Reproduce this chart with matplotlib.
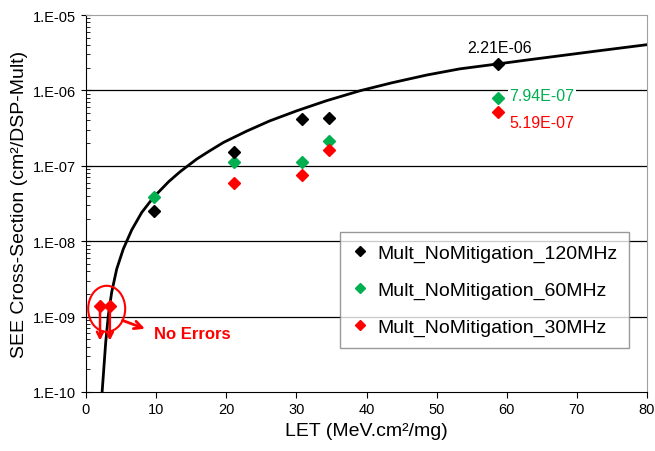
import numpy as np
import matplotlib.pyplot as plt
from matplotlib.patches import Ellipse
from matplotlib.ticker import FixedLocator, FixedFormatter, LogLocator, NullFormatter

plt.rcParams['font.family'] = ['Liberation Sans', 'DejaVu Sans']

# Dados
let_120 = [9.7, 21.1, 30.8, 34.7, 58.8]
xs_120 = [2.51e-8, 1.54e-7, 4.14e-7, 4.27e-7, 2.21e-6]

let_60 = [9.7, 21.1, 30.8, 34.7, 58.8]
xs_60 = [3.82e-8, 1.13e-7, 1.13e-7, 2.15e-7, 7.94e-7]

let_30 = [21.1, 30.8, 34.7, 58.8]
xs_30 = [5.86e-8, 7.55e-8, 1.62e-7, 5.19e-7]

# pontos sem erros (limite superior)
let_noerr = [2.0, 3.4]
xs_noerr = [1.4e-9, 1.4e-9]
xs_noerr_tip = [4.8e-10, 4.8e-10]

# curva ajustada
let_fit = [2.3, 2.57, 2.81, 3.18, 3.66, 4.38, 5.32, 6.52, 7.94, 9.6, 11.8,
           13.4, 15.8, 17.5, 19.6, 22.9, 26.2, 30.1, 34.3, 39.1, 43.6, 48.6,
           53.3, 58.8, 62.9, 67.6, 72.3, 80.0]
xs_fit = [1.0e-10, 2.23e-10, 4.56e-10, 1.03e-9, 2.1e-9, 4.28e-9, 7.89e-9,
          1.41e-8, 2.4e-8, 3.8e-8, 6.17e-8, 8.32e-8, 1.23e-7, 1.55e-7, 2.04e-7,
          2.88e-7, 3.94e-7, 5.38e-7, 7.3e-7, 9.91e-7, 1.26e-6, 1.6e-6, 1.93e-6,
          2.25e-6, 2.53e-6, 2.88e-6, 3.28e-6, 4.04e-6]

y_ticks = [1e-10, 1e-9, 1e-8, 1e-7, 1e-6, 1e-5]
y_labels = ['1.E-10', '1.E-09', '1.E-08', '1.E-07', '1.E-06', '1.E-05']
x_ticks = [0, 10, 20, 30, 40, 50, 60, 70, 80]

labels = ['Mult_NoMitigation_120MHz', 'Mult_NoMitigation_60MHz', 'Mult_NoMitigation_30MHz']
cores = ['black', '#00B050', '#FF0000']

fig = plt.figure(figsize=(6.55, 4.52), dpi=100)
ax = fig.add_axes([86/655, 1 - 393/452, 561/655, 377/452])

ax.set_yscale('log')
ax.set_xlim(0, 80)
ax.set_ylim(1e-10, 1e-5)

for y in y_ticks[1:-1]:
    ax.axhline(y, color='black', lw=0.9, zorder=1)

ax.plot(let_fit, xs_fit, color='black', lw=2, zorder=2, solid_joinstyle='round')

ms = 6.3
ax.plot(let_120, xs_120, 'D', color=cores[0], ms=ms, lw=0, label=labels[0], zorder=4)
ax.plot(let_60, xs_60, 'D', color=cores[1], ms=ms, lw=0, label=labels[1], zorder=3)
ax.plot(let_30, xs_30, 'D', color=cores[2], ms=ms, lw=0, label=labels[2], zorder=3)

# sem erros: diamantes vermelhos com setas para baixo
ax.plot(let_noerr, xs_noerr, 'D', color=cores[2], ms=ms, lw=0, zorder=4)
for xv, y0, y1 in zip(let_noerr, xs_noerr, xs_noerr_tip):
    ax.annotate('', xy=(xv, y1), xytext=(xv, y0),
                arrowprops=dict(arrowstyle='->', color=cores[2], lw=1.8,
                                mutation_scale=11, shrinkA=0, shrinkB=0),
                zorder=4)

# elipse e seta "No Errors"
c = ax.transAxes.inverted().transform(ax.transData.transform((2.95, 1.27e-9)))
ax.add_patch(Ellipse(c, 37/561, 46/377, transform=ax.transAxes, fill=False,
                     edgecolor=cores[2], lw=1.5, zorder=5))
ax.annotate('', xy=(8.4, 6.9e-10), xytext=(5.2, 8.9e-10),
            arrowprops=dict(arrowstyle='->', color=cores[2], lw=2,
                            mutation_scale=14, shrinkA=0, shrinkB=0))
ax.text(9.7, 5.95e-10, 'No Errors', color=cores[2], fontsize=12,
        fontweight='bold', va='center', ha='left')

# rótulos de valores
ax.annotate('2.21E-06', xy=(let_120[-1], xs_120[-1]), xytext=(1, 7),
            textcoords='offset points', ha='center', va='bottom', fontsize=11.5)
ax.annotate('7.94E-07', xy=(let_60[-1], xs_60[-1]), xytext=(8, 2),
            textcoords='offset points', ha='left', va='center', fontsize=11.5,
            color=cores[1], bbox=dict(boxstyle='square,pad=0.1', fc='white', ec='none'))
ax.annotate('5.19E-07', xy=(let_30[-1], xs_30[-1]), xytext=(8, -8),
            textcoords='offset points', ha='left', va='center', fontsize=11.5,
            color=cores[2])

ax.xaxis.set_major_locator(FixedLocator(x_ticks))
ax.yaxis.set_major_locator(FixedLocator(y_ticks))
ax.yaxis.set_major_formatter(FixedFormatter(y_labels))
ax.yaxis.set_minor_locator(LogLocator(base=10, subs=np.arange(2, 10)))
ax.yaxis.set_minor_formatter(NullFormatter())
ax.tick_params(axis='y', which='major', direction='inout', length=7, labelsize=10.5)
ax.tick_params(axis='y', which='minor', direction='in', length=3)
ax.tick_params(axis='x', which='major', direction='out', length=4, labelsize=10.5)

for s in ['top', 'right']:
    ax.spines[s].set_color('#a0a0a0')
for s in ['left', 'bottom']:
    ax.spines[s].set_color('black')

ax.set_xlabel('LET (MeV.cm²/mg)', fontsize=14)
ax.set_ylabel('SEE Cross-Section (cm²/DSP-Mult)', fontsize=14)

leg = ax.legend(loc='lower right', bbox_to_anchor=(0.968, 0.117), borderaxespad=0,
                fontsize=14, frameon=True, fancybox=False, edgecolor='#808080',
                markerscale=0.8, labelspacing=1.0, handlelength=0.8,
                handletextpad=0.5, borderpad=0.6)
leg.get_frame().set_linewidth(1)

fig.savefig('out.png', dpi=100)
